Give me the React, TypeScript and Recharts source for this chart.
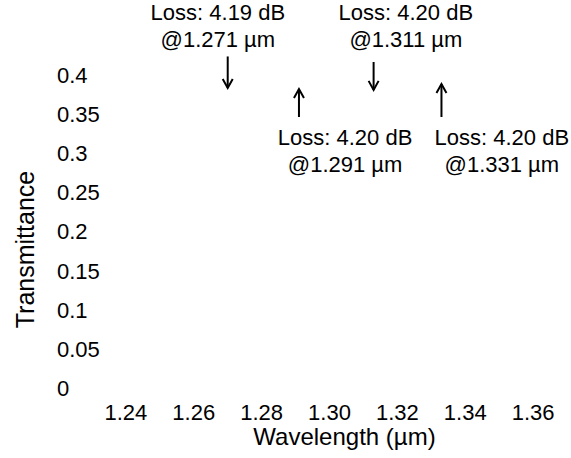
import { ComposedChart, XAxis, YAxis, Scatter, ReferenceDot, ReferenceLine, Label } from "recharts";

const X_TICKS = [1.24, 1.26, 1.28, 1.3, 1.32, 1.34, 1.36];
const Y_TICKS = [0, 0.05, 0.1, 0.15, 0.2, 0.25, 0.3, 0.35, 0.4];

// dips marked on the plot
const dipWavelengths = [1.271, 1.291, 1.311, 1.331];
const dipLosses = [4.19, 4.2, 4.2, 4.2];

// arrow and label placement (data units)
const arrowX = [1.27, 1.291, 1.313, 1.333];
const arrowTail = [0.4237, 0.3463, 0.4166, 0.3463];
const arrowTip = [0.3834, 0.382, 0.381, 0.3885];
const labelX = [1.2671, 1.3046, 1.3225, 1.3508];
const labelY = [0.4805, 0.3201, 0.4805, 0.3201];

const FONT = "'Liberation Sans', Arial, Helvetica, sans-serif";
const INK = "#000";

const arrows = arrowX.map((x, i) => ({
  x,
  tip: arrowTip[i],
  down: arrowTail[i] > arrowTip[i],
}));

function ArrowHead(p: any) {
  const { cx, cy, payload } = p;
  const dir = payload.down ? 1 : -1;
  return (
    <polyline
      points={`${cx - 5},${cy - dir * 9} ${cx},${cy} ${cx + 5},${cy - dir * 9}`}
      stroke={INK}
      strokeWidth={2}
      fill="none"
    />
  );
}

function lossLabel(i: number) {
  return (p: any) => (
    <g fontFamily={FONT} fontSize={22} fill={INK} textAnchor="middle">
      <text x={p.cx} y={p.cy} dy="0.36em">
        {`Loss: ${dipLosses[i].toFixed(2)} dB`}
      </text>
      <text x={p.cx} y={p.cy + 27} dy="0.36em">
        {`@${dipWavelengths[i].toFixed(3)} µm`}
      </text>
    </g>
  );
}

function XTick(p: any) {
  return (
    <text x={p.x} y={p.y} dy="0.71em" textAnchor="middle" fill={INK} fontSize={22} fontFamily={FONT}>
      {p.payload.value.toFixed(2)}
    </text>
  );
}

function YTick(p: any) {
  return (
    <text x={p.x} y={p.y} dx={-35} dy="0.36em" textAnchor="start" fill={INK} fontSize={22} fontFamily={FONT}>
      {String(p.payload.value)}
    </text>
  );
}

export default function App() {
  return (
    <div style={{ position: "absolute", left: 0, top: 0, background: "#fff" }}>
      <ComposedChart
        width={571}
        height={458}
        margin={{ top: 75, right: 4, bottom: 0, left: 0 }}
      >
        <XAxis
          type="number"
          dataKey="x"
          domain={[1.23, 1.37]}
          ticks={X_TICKS}
          axisLine={false}
          tickLine={false}
          tickSize={0}
          tickMargin={16}
          height={70}
          tick={XTick}
        >
          <Label
            value="Wavelength (µm)"
            position="insideBottom"
            offset={13}
            dx={15}
            style={{ fill: INK, fontSize: 24, fontFamily: FONT }}
          />
        </XAxis>
        <YAxis
          type="number"
          dataKey="tip"
          domain={[0, 0.4]}
          ticks={Y_TICKS}
          axisLine={false}
          tickLine={false}
          tickSize={0}
          tickMargin={0}
          width={92}
          tick={YTick}
        >
          <Label
            value="Transmittance"
            position="center"
            angle={-90}
            dx={-21}
            dy={18}
            style={{ fill: INK, fontSize: 25, fontFamily: FONT }}
          />
        </YAxis>
        {arrowX.map((x, i) => (
          <ReferenceLine
            key={`a${i}`}
            segment={[
              { x, y: arrowTail[i] },
              { x, y: arrowTip[i] },
            ]}
            ifOverflow="visible"
            stroke={INK}
            strokeWidth={2}
          />
        ))}
        <Scatter
          data={arrows}
          dataKey="tip"
          shape={ArrowHead}
          isAnimationActive={false}
        />
        {labelX.map((x, i) => (
          <ReferenceDot
            key={`l${i}`}
            x={x}
            y={labelY[i]}
            r={0}
            ifOverflow="visible"
            shape={lossLabel(i)}
          />
        ))}
      </ComposedChart>
    </div>
  );
}
